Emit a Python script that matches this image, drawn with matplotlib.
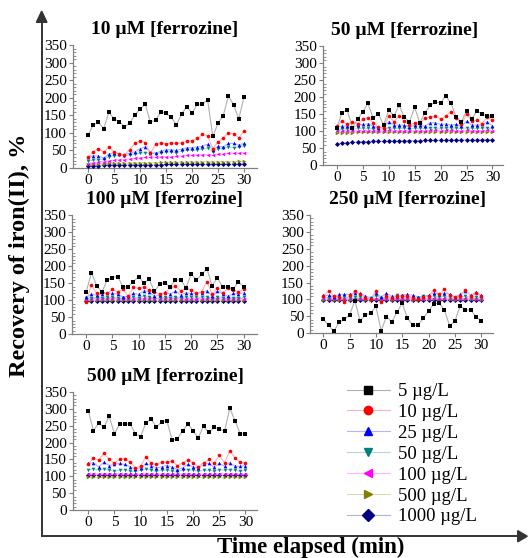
#!/usr/bin/env python3
import matplotlib
matplotlib.use("Agg")
import matplotlib.colors as mc
import matplotlib.patches as mpatches
import matplotlib.pyplot as plt
from matplotlib.lines import Line2D
from matplotlib.ticker import MultipleLocator

plt.rcParams["font.family"] = ["Liberation Serif", "DejaVu Serif"]

TIME = list(range(31))

SERIES_LABELS = ["5 µg/L", "10 µg/L", "25 µg/L", "50 µg/L", "100 µg/L", "500 µg/L", "1000 µg/L"]
SERIES_COLORS = ["#000000", "#ff0000", "#0000ff", "#008080", "#ff00ff", "#808000", "#000080"]
SERIES_MARKERS = ["s", "o", "^", "v", "<", ">", "D"]

TITLES = ["10 µM [ferrozine]", "50 µM [ferrozine]", "100 µM [ferrozine]",
          "250 µM [ferrozine]", "500 µM [ferrozine]"]

# 10 uM ferrozine
f10_5 = [94, 123, 130, 112, 159, 140, 132, 118, 127, 151, 168, 182, 130, 137, 159, 156,
         144, 123, 154, 175, 156, 182, 182, 194, 90, 127, 149, 205, 180, 140, 202]
f10_10 = [30, 45, 55, 45, 60, 45, 40, 38, 52, 70, 78, 72, 42, 68, 72, 68,
          72, 70, 72, 76, 78, 84, 96, 92, 55, 74, 86, 100, 97, 86, 106]
f10_25 = [30, 35, 34, 28, 40, 43, 40, 38, 42, 46, 55, 60, 44, 42, 48, 52,
          52, 50, 54, 58, 58, 60, 62, 68, 52, 62, 60, 70, 70, 66, 70]
f10_50 = [20, 22, 24, 25, 32, 35, 36, 35, 38, 40, 42, 44, 42, 40, 44, 46,
          46, 44, 48, 52, 50, 52, 54, 56, 46, 54, 56, 60, 58, 60, 62]
f10_100 = [12, 15, 18, 18, 20, 22, 24, 24, 26, 28, 28, 30, 30, 30, 32, 32,
           32, 34, 34, 36, 36, 36, 38, 38, 36, 40, 40, 42, 42, 42, 44]
f10_500 = [10, 11, 12, 12, 13, 13, 13, 14, 14, 14, 15, 15, 15, 15, 16, 16,
           16, 16, 16, 17, 17, 17, 17, 18, 17, 18, 18, 18, 18, 19, 19]
f10_1000 = [6, 7, 7, 8, 8, 8, 8, 8, 9, 9, 9, 9, 9, 9, 9, 10,
            10, 10, 10, 10, 10, 10, 10, 10, 10, 10, 10, 10, 11, 11, 11]

# 50 uM ferrozine
f50_5 = [110, 155, 162, 110, 135, 158, 182, 138, 152, 118, 162, 145, 176, 142, 128, 170,
         125, 155, 176, 186, 183, 204, 182, 142, 128, 160, 136, 160, 150, 145, 145]
f50_10 = [115, 130, 120, 128, 122, 135, 140, 125, 112, 110, 145, 128, 145, 130, 118, 125,
          125, 138, 142, 145, 135, 145, 158, 138, 120, 150, 130, 132, 122, 143, 133]
f50_25 = [112, 115, 115, 110, 118, 120, 122, 115, 110, 110, 128, 118, 118, 118, 112, 118,
          118, 115, 125, 125, 120, 122, 118, 120, 115, 130, 118, 118, 120, 128, 115]
f50_50 = [105, 106, 107, 106, 108, 108, 108, 107, 106, 106, 110, 108, 108, 108, 107, 108,
          108, 108, 110, 110, 108, 110, 110, 109, 108, 110, 108, 108, 109, 110, 108]
f50_100 = [100, 101, 101, 100, 102, 102, 102, 101, 101, 100, 103, 102, 102, 102, 101, 102,
           102, 102, 103, 103, 102, 103, 103, 102, 102, 103, 102, 102, 102, 103, 102]
f50_500 = [95, 96, 96, 96, 97, 97, 97, 97, 97, 97, 97, 97, 97, 97, 97, 98,
           98, 98, 98, 98, 98, 98, 98, 98, 98, 98, 98, 98, 98, 98, 98]
f50_1000 = [62, 65, 66, 67, 68, 69, 69, 70, 70, 70, 71, 71, 71, 72, 72, 72,
            72, 73, 73, 73, 73, 73, 74, 74, 74, 74, 74, 74, 75, 75, 75]

# 100 uM ferrozine
f100_5 = [124, 181, 143, 124, 160, 167, 170, 140, 140, 155, 170, 150, 162, 126, 147, 150,
          140, 160, 160, 137, 177, 160, 176, 193, 142, 167, 138, 140, 132, 155, 140]
f100_10 = [95, 145, 120, 125, 120, 132, 125, 132, 112, 138, 135, 140, 130, 125, 118, 122,
           138, 142, 128, 135, 130, 122, 125, 155, 118, 135, 122, 135, 130, 125, 133]
f100_25 = [110, 118, 115, 118, 122, 120, 118, 110, 112, 120, 118, 128, 125, 112, 115, 125,
           118, 128, 115, 122, 120, 122, 122, 128, 112, 128, 118, 112, 120, 118, 122]
f100_50 = [106, 108, 108, 108, 110, 109, 108, 106, 107, 109, 108, 112, 111, 106, 107, 110,
           108, 111, 107, 109, 109, 109, 109, 111, 106, 111, 108, 106, 108, 108, 109]
f100_100 = [104, 105, 105, 105, 106, 106, 105, 104, 104, 105, 105, 106, 106, 104, 105, 106,
            105, 106, 105, 105, 105, 105, 105, 106, 104, 106, 105, 104, 105, 105, 105]
f100_500 = [100, 100, 100, 100, 101, 101, 100, 100, 100, 101, 100, 101, 101, 100, 100, 101,
            100, 101, 100, 101, 100, 100, 101, 101, 100, 101, 100, 100, 100, 100, 101]
f100_1000 = [97, 98, 98, 98, 98, 98, 98, 97, 98, 98, 98, 98, 98, 97, 98, 98,
             98, 98, 98, 98, 98, 98, 98, 98, 97, 98, 98, 97, 98, 98, 98]

# 250 uM ferrozine
f250_5 = [42, 23, 5, 32, 41, 54, 96, 36, 54, 59, 79, 7, 49, 33, 62, 89,
          44, 23, 23, 44, 66, 86, 89, 69, 22, 35, 81, 69, 69, 49, 36]
f250_10 = [110, 125, 110, 108, 92, 112, 125, 115, 105, 100, 125, 92, 110, 105, 110, 110,
           110, 105, 100, 108, 110, 128, 115, 130, 112, 108, 110, 128, 110, 118, 110]
f250_25 = [112, 112, 108, 115, 115, 115, 118, 118, 110, 105, 118, 108, 118, 110, 110, 112,
           115, 112, 108, 110, 112, 120, 115, 120, 115, 108, 115, 125, 112, 122, 112]
f250_50 = [105, 106, 104, 105, 106, 105, 108, 106, 104, 103, 110, 104, 106, 104, 112, 110,
           106, 104, 105, 110, 108, 110, 106, 110, 106, 104, 108, 110, 106, 108, 105]
f250_100 = [101, 102, 101, 101, 102, 101, 102, 102, 101, 100, 102, 101, 102, 101, 102, 102,
            102, 101, 101, 102, 102, 103, 102, 103, 102, 101, 102, 103, 102, 102, 101]
f250_500 = [99, 100, 99, 99, 100, 99, 100, 100, 99, 99, 100, 99, 100, 99, 100, 100,
            100, 99, 99, 100, 100, 100, 100, 100, 100, 99, 100, 100, 100, 100, 99]
f250_1000 = [97, 97, 97, 97, 97, 97, 97, 97, 97, 97, 97, 97, 97, 97, 97, 97,
             97, 97, 97, 97, 97, 97, 97, 97, 97, 97, 97, 97, 97, 97, 97]

# 500 uM ferrozine
f500_5 = [295, 235, 258, 245, 278, 226, 255, 255, 255, 226, 218, 258, 270, 245, 262, 265,
          208, 211, 235, 256, 235, 215, 248, 230, 245, 240, 233, 302, 265, 226, 226]
f500_10 = [135, 155, 148, 168, 150, 138, 152, 152, 142, 125, 130, 158, 138, 135, 142, 142,
           145, 132, 140, 148, 140, 128, 140, 150, 138, 162, 140, 175, 155, 142, 138]
f500_25 = [138, 140, 128, 142, 132, 135, 138, 135, 128, 122, 125, 138, 132, 125, 128, 132,
           128, 120, 125, 135, 128, 125, 135, 138, 128, 138, 130, 140, 130, 130, 132]
f500_50 = [120, 122, 118, 122, 118, 115, 118, 120, 115, 115, 118, 122, 118, 115, 118, 118,
           115, 115, 118, 120, 118, 115, 118, 118, 115, 120, 118, 120, 118, 115, 118]
f500_100 = [108, 108, 106, 108, 108, 106, 108, 108, 106, 106, 106, 108, 107, 106, 107, 107,
            106, 106, 107, 108, 107, 106, 107, 107, 106, 108, 107, 108, 107, 106, 107]
f500_500 = [98, 98, 98, 98, 98, 98, 98, 98, 98, 98, 98, 98, 98, 98, 98, 98,
            98, 98, 98, 98, 98, 98, 98, 98, 98, 98, 98, 98, 98, 98, 98]
f500_1000 = [103, 103, 103, 103, 103, 103, 103, 103, 103, 103, 103, 103, 103, 103, 103, 103,
             103, 103, 103, 103, 103, 103, 103, 103, 103, 103, 103, 103, 103, 103, 103]

PANELS = [
    [f10_5, f10_10, f10_25, f10_50, f10_100, f10_500, f10_1000],
    [f50_5, f50_10, f50_25, f50_50, f50_100, f50_500, f50_1000],
    [f100_5, f100_10, f100_25, f100_50, f100_100, f100_500, f100_1000],
    [f250_5, f250_10, f250_25, f250_50, f250_100, f250_500, f250_1000],
    [f500_5, f500_10, f500_25, f500_50, f500_100, f500_500, f500_1000],
]

# axes rectangles in figure fractions (left, bottom, width, height)
RECTS = [
    (0.1375, 0.699, 0.3465, 0.220),
    (0.608, 0.704, 0.339, 0.213),
    (0.1356, 0.401, 0.348, 0.213),
    (0.584, 0.403, 0.345, 0.2115),
    (0.1375, 0.086, 0.3465, 0.2115),
]
XLIMS = [(-2.9, 32.5), (-2.7, 32.0), (-2.7, 32.5), (-2.5, 32.3), (-2.9, 32.2)]
TITLE_X = [0.5, 0.456, 0.5, 0.53, 0.5]


def light(color, alpha=0.3):
    r, g, b = mc.to_rgb(color)
    return (1 - alpha * (1 - r), 1 - alpha * (1 - g), 1 - alpha * (1 - b))


def line_color(col):
    return "#b0b0b0" if col == "#000000" else light(col)


def main() -> None:
    fig = plt.figure(figsize=(5.31, 5.58), dpi=100)

    for rect, xlim, title, tx, series in zip(RECTS, XLIMS, TITLES, TITLE_X, PANELS):
        ax = fig.add_axes(rect)
        # bottom-most series first so the black one sits on top
        for vals, col, mk in reversed(list(zip(series, SERIES_COLORS, SERIES_MARKERS))):
            ax.plot(TIME, vals, color=line_color(col), lw=0.8, zorder=2)
            ax.plot(TIME, vals, ls="none", marker=mk, ms=2.6, color=col,
                    markeredgewidth=0, zorder=3)
        ax.set_xlim(*xlim)
        ax.set_ylim(0, 350)
        ax.set_xticks(range(0, 31, 5))
        ax.set_yticks(range(0, 351, 50))
        ax.yaxis.set_minor_locator(MultipleLocator(10))
        ax.tick_params(axis="both", which="major", labelsize=11, length=3,
                       color="#808080", width=0.8, pad=1.5)
        ax.tick_params(axis="y", which="minor", length=2, direction="in",
                       color="#808080", width=0.6)
        for side in ("top", "right"):
            ax.spines[side].set_visible(False)
        for side in ("left", "bottom"):
            ax.spines[side].set_color("#808080")
            ax.spines[side].set_linewidth(0.9)
        ax.set_title(title, fontsize=14, fontweight="bold", pad=8, x=tx)

    # legend
    handles = []
    for lab, col, mk in zip(SERIES_LABELS, SERIES_COLORS, SERIES_MARKERS):
        handles.append(Line2D([0], [0], color=line_color(col), lw=0.8, marker=mk, ms=6,
                              markerfacecolor=col, markeredgecolor=col, label=lab))
    fig.legend(handles=handles, loc="upper left", bbox_to_anchor=(0.639, 0.327),
               frameon=False, fontsize=13.5, handlelength=2.3, handletextpad=0.42,
               labelspacing=0.2, borderaxespad=0)

    # big axis arrows
    fig.add_artist(plt.Line2D([0.0785, 0.0785], [0.039, 0.975], color="#333333", lw=1.4))
    fig.add_artist(plt.Line2D([0.0785, 0.985], [0.039, 0.039], color="#333333", lw=1.4))
    fig.patches.append(mpatches.FancyArrow(
        0.0785, 0.96, 0, 0.02, width=0.0, head_width=0.02, head_length=0.02,
        color="#333333", transform=fig.transFigure, length_includes_head=True))
    fig.patches.append(mpatches.FancyArrow(
        0.975, 0.039, 0.018, 0, width=0.0, head_width=0.02, head_length=0.018,
        color="#333333", transform=fig.transFigure, length_includes_head=True))

    fig.text(0.036, 0.542, "Recovery of iron(II), %", rotation=90, ha="center",
             va="center", fontsize=17.5, fontweight="bold")
    fig.text(0.586, 0.019, "Time elapsed (min)", ha="center", va="center",
             fontsize=16.5, fontweight="bold")

    fig.savefig("out.png", dpi=100)
    plt.close(fig)


if __name__ == "__main__":
    main()
